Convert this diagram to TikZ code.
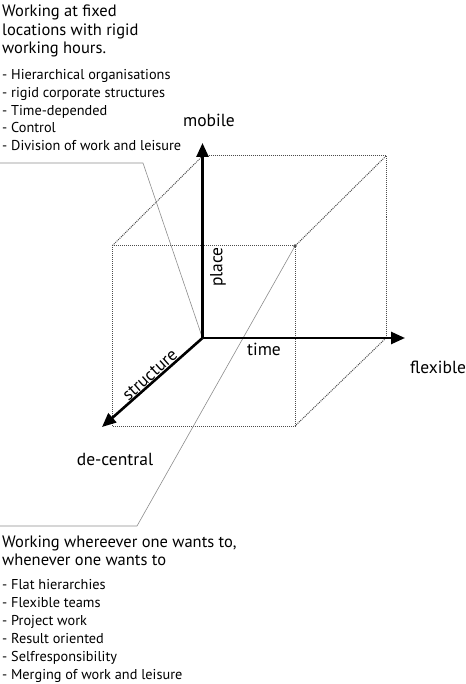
\documentclass[tikz,border=0pt]{standalone}
\usepackage{fontspec}
\setmainfont{PT Sans}
\usetikzlibrary{arrows.meta}
\begin{document}
\begin{tikzpicture}[x=1pt,y=-1pt,
  axis/.style={line width=2.6pt,-{Triangle[length=14pt,width=12pt]}},
  edge/.style={densely dotted,line width=1pt,color=black!70},
  lead/.style={line width=0.6pt,color=black!45},
  head/.style={anchor=base west,inner sep=0pt,font=\fontsize{16.5}{19}\selectfont},
  item/.style={anchor=base west,inner sep=0pt,font=\fontsize{14.3}{17}\selectfont},
  lab/.style={inner sep=0pt,font=\fontsize{17.5}{20}\selectfont}]
\useasboundingbox (0,0) rectangle (465,684);
% cube corners
\coordinate (O) at (202.5,338);
\coordinate (BTL) at (202.5,156);
\coordinate (BTR) at (386,156);
\coordinate (BBR) at (386,338);
\coordinate (FTL) at (112,246);
\coordinate (FTR) at (295,246);
\coordinate (FBR) at (295,426);
\coordinate (FBL) at (112,426);
\coordinate (mob) at (202.5,143);
\coordinate (flx) at (405,338);
\coordinate (dec) at (102,427);
\coordinate (k1) at (143,163);
\coordinate (e1) at (0,163);
\coordinate (k2) at (137,526);
\coordinate (e2) at (0,526);
% dotted cube
\draw[edge] (FTL) -- (FTR) -- (FBR) -- (FBL) -- cycle;
\draw[edge] (BTL) -- (BTR) -- (BBR);
\draw[edge] (BTL) -- (FTL);
\draw[edge] (BTR) -- (FTR);
\draw[edge] (BBR) -- (FBR);
% leader lines
\draw[lead] (O) -- (k1) -- (e1);
\draw[lead] (FTR) -- (k2) -- (e2);
\fill[black!70] (FTR) circle (1.8pt);
% axes
\draw[axis] (O) -- (mob);
\draw[axis] (O) -- (flx);
\draw[axis] (O) -- (dec);
% axis labels
\node[lab,anchor=base] (lmob) at (209,127) {mobile};
\node[lab,anchor=base west] (lflx) at (410,373) {flexible};
\node[lab,anchor=base] (ldec) at (115,465) {de-central};
\node[lab,anchor=base] (ltime) at (264,355) {time};
\node[lab,rotate=90] (lplace) at (218,267) {place};
\node[lab,rotate=41.7] (lstr) at (150,375) {structure};
% top text
\node[head] (t1) at (2,17) {Working at fixed};
\node[head] (t2) at (2,35.5) {locations with rigid};
\node[head] (t3) at (2,54) {working hours.};
\node[item] (a1) at (2,80) {- Hierarchical organisations};
\node[item] (a2) at (2,98) {- rigid corporate structures};
\node[item] (a3) at (2,115.5) {- Time-depended};
\node[item] (a4) at (2,133) {- Control};
\node[item] (a5) at (2,151) {- Division of work and leisure};
% bottom text
\node[head] (b1) at (2,547) {Working whereever one wants to,};
\node[head] (b2) at (2,565) {whenever one wants to};
\node[item] (c1) at (2,589) {- Flat hierarchies};
\node[item] (c2) at (2,607) {- Flexible teams};
\node[item] (c3) at (2,625) {- Project work};
\node[item] (c4) at (2,643) {- Result oriented};
\node[item] (c5) at (2,661) {- Selfresponsibility};
\node[item] (c6) at (2,679) {- Merging of work and leisure};
\end{tikzpicture}
\end{document}
